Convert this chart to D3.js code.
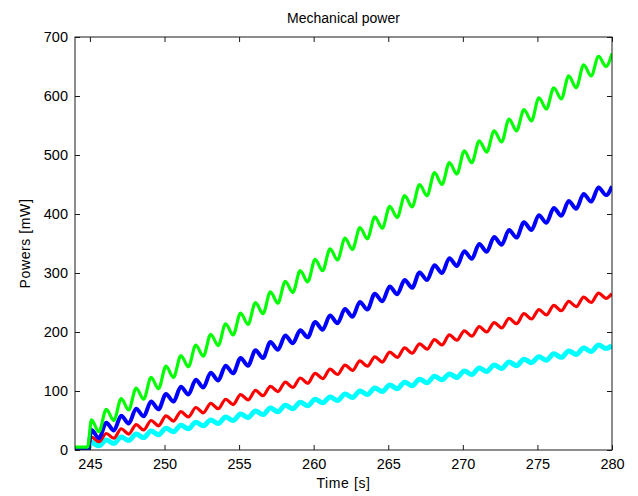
<!DOCTYPE html>
<html>
<head>
<meta charset="utf-8">
<script src="https://cdn.jsdelivr.net/npm/d3@7"></script>
<style>
  html, body { margin: 0; padding: 0; background: #fff; }
  svg { display: block; }
  text { font-family: "Liberation Sans", Arial, sans-serif; fill: #000; }
</style>
</head>
<body>
<svg id="chart" width="638" height="496"></svg>
<script>
// Sample times [s]: flat lead-in, then alternating peak / trough of each stroke
const times = [244, 244.85,
  245.1, 245.6, 246.1, 246.6, 247.1, 247.6, 248.1, 248.6, 249.1, 249.6,
  250.1, 250.6, 251.1, 251.6, 252.1, 252.6, 253.1, 253.6, 254.1, 254.6,
  255.1, 255.6, 256.1, 256.6, 257.1, 257.6, 258.1, 258.6, 259.1, 259.6,
  260.1, 260.6, 261.1, 261.6, 262.1, 262.6, 263.1, 263.6, 264.1, 264.6,
  265.1, 265.6, 266.1, 266.6, 267.1, 267.6, 268.1, 268.6, 269.1, 269.6,
  270.1, 270.6, 271.1, 271.6, 272.1, 272.6, 273.1, 273.6, 274.1, 274.6,
  275.1, 275.6, 276.1, 276.6, 277.1, 277.6, 278.1, 278.6, 279.1, 279.6,
  280];

// Mechanical power per channel [mW], same sampling as `times`
const greenPower = [5, 5,
  51, 31, 69, 50, 87, 68, 105, 86, 123, 104,
  142, 123, 160, 141, 178, 159, 196, 177, 214, 195,
  232, 213, 250, 231, 268, 249, 286, 267, 304, 285,
  323, 304, 341, 322, 359, 340, 377, 358, 395, 376,
  413, 394, 431, 412, 450, 431, 470, 450, 487, 468,
  507, 487, 524, 505, 541, 522, 561, 541, 577, 558,
  597, 578, 614, 595, 634, 614, 653, 634, 667, 650,
  672];

const bluePower = [0, 0,
  34, 20, 46, 33, 58, 45, 70, 57, 82, 69,
  95, 82, 107, 94, 119, 106, 131, 118, 143, 130,
  156, 143, 169, 156, 183, 170, 194, 181, 203, 191,
  217, 204, 228, 215, 239, 226, 251, 238, 265, 252,
  277, 264, 288, 275, 301, 288, 313, 300, 325, 312,
  337, 324, 349, 336, 361, 348, 373, 360, 386, 373,
  398, 385, 410, 397, 422, 409, 434, 421, 445, 432,
  447];

const redPower = [0, 0,
  22, 14, 28, 20, 36, 27, 43, 34, 50, 41,
  58, 49, 65, 56, 72, 63, 79, 70, 86, 77,
  94, 85, 101, 92, 108, 99, 115, 106, 122, 113,
  130, 121, 137, 128, 144, 135, 151, 142, 158, 149,
  166, 157, 173, 164, 180, 171, 187, 178, 195, 186,
  202, 193, 209, 200, 216, 207, 223, 214, 231, 222,
  238, 229, 245, 236, 252, 243, 259, 250, 266, 257,
  265];

const cyanPower = [0, 0,
  13, 7, 17, 11, 22, 16, 27, 21, 32, 26,
  37, 31, 42, 36, 47, 41, 51, 45, 56, 50,
  61, 55, 66, 60, 71, 65, 76, 70, 81, 75,
  86, 80, 90, 84, 95, 89, 100, 94, 105, 99,
  110, 104, 115, 109, 120, 114, 125, 119, 129, 123,
  134, 128, 139, 133, 144, 138, 149, 143, 154, 148,
  158, 152, 163, 157, 168, 162, 173, 167, 178, 172,
  177];

const xTicks = [245, 250, 255, 260, 265, 270, 275, 280];
const yTicks = [0, 100, 200, 300, 400, 500, 600, 700];

const series = [
  { name: "cyan",  values: cyanPower,  color: "#00ffff", width: 5 },
  { name: "red",   values: redPower,   color: "#ff0000", width: 3.2 },
  { name: "blue",  values: bluePower,  color: "#0000ff", width: 4 },
  { name: "green", values: greenPower, color: "#00ff00", width: 3.2 }
];

const W = 638, H = 496;
const margin = { top: 37, right: 26, bottom: 46, left: 75 };
const iw = W - margin.left - margin.right;
const ih = H - margin.top - margin.bottom;

const svg = d3.select("#chart");
const g = svg.append("g").attr("transform", `translate(${margin.left},${margin.top})`);

const x = d3.scaleLinear().domain([244, 280]).range([0, iw]);
const y = d3.scaleLinear().domain([0, 700]).range([ih, 0]);

g.append("clipPath").attr("id", "plot-clip")
  .append("rect").attr("width", iw).attr("height", ih);

// power traces
const line = d3.line()
  .x((d, i) => x(times[i]))
  .y(d => y(d))
  .curve(d3.curveMonotoneX);

const traces = g.append("g").attr("clip-path", "url(#plot-clip)");
traces.selectAll("path")
  .data(series)
  .join("path")
  .attr("fill", "none")
  .attr("stroke", d => d.color)
  .attr("stroke-width", d => d.width)
  .attr("stroke-linejoin", "round")
  .attr("d", d => line(d.values));

// boxed axes with inward ticks
const tickLen = 5;
const axisColor = "#1a1a1a";

function styleAxis(sel, showLabels) {
  sel.select(".domain").remove();
  sel.selectAll(".tick line").attr("stroke", axisColor);
  sel.selectAll(".tick text")
    .style("font-size", "14.5px")
    .attr("fill", "#111");
  if (!showLabels) sel.selectAll(".tick text").remove();
}

g.append("g")
  .attr("transform", `translate(0,${ih})`)
  .call(d3.axisBottom(x).tickValues(xTicks).tickSize(-tickLen).tickPadding(9).tickFormat(d3.format("d")))
  .call(s => styleAxis(s, true));

g.append("g")
  .call(d3.axisTop(x).tickValues(xTicks).tickSize(-tickLen).tickFormat(""))
  .call(s => styleAxis(s, false));

g.append("g")
  .call(d3.axisLeft(y).tickValues(yTicks).tickSize(-tickLen).tickPadding(7).tickFormat(d3.format("d")))
  .call(s => styleAxis(s, true));

g.append("g")
  .attr("transform", `translate(${iw},0)`)
  .call(d3.axisRight(y).tickValues(yTicks).tickSize(-tickLen).tickFormat(""))
  .call(s => styleAxis(s, false));

g.append("rect")
  .attr("width", iw).attr("height", ih)
  .attr("fill", "none")
  .attr("stroke", axisColor)
  .attr("stroke-width", 1);

// titles
svg.append("text")
  .attr("x", margin.left + iw / 2)
  .attr("y", 23)
  .attr("text-anchor", "middle")
  .style("font-size", "14px")
  .text("Mechanical power");

svg.append("text")
  .attr("x", margin.left + iw / 2)
  .attr("y", 488)
  .attr("text-anchor", "middle")
  .style("font-size", "14px")
  .style("letter-spacing", "0.6px")
  .text("Time [s]");

svg.append("text")
  .attr("transform", `translate(30,${margin.top + ih / 2}) rotate(-90)`)
  .attr("text-anchor", "middle")
  .style("font-size", "14px")
  .style("letter-spacing", "0.6px")
  .text("Powers [mW]");
</script>
</body>
</html>
